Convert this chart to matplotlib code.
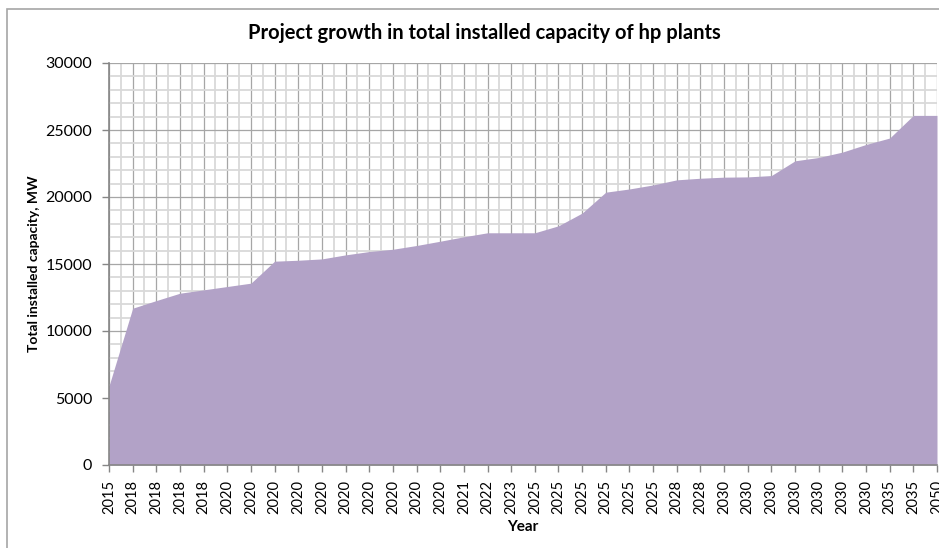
import matplotlib.pyplot as plt
import numpy as np
from matplotlib.patches import Rectangle
from matplotlib.ticker import MultipleLocator

years = ['2015', '2018', '2018', '2018', '2018',
         '2020', '2020', '2020', '2020', '2020', '2020', '2020', '2020', '2020', '2020',
         '2021', '2022', '2023',
         '2025', '2025', '2025', '2025', '2025', '2025',
         '2028', '2028',
         '2030', '2030', '2030', '2030', '2030', '2030', '2030',
         '2035', '2035', '2050']

capacity = [5900, 11700, 12270, 12820, 13070, 13320, 13570, 15210, 15280, 15380,
            15680, 15930, 16100, 16380, 16700, 17030, 17330, 17330, 17330, 17850,
            18800, 20360, 20600, 20900, 21280, 21400, 21480, 21500, 21600, 22700,
            22950, 23350, 23920, 24400, 26090, 26090]

plt.rcParams['font.family'] = ['Lato', 'DejaVu Sans']

fig = plt.figure(figsize=(9.39, 5.48), dpi=100)
ax = fig.add_axes([109 / 939, 1 - 465 / 548, (937 - 109) / 939, (465 - 63) / 548])

x = np.arange(len(capacity))
ax.fill_between(x, capacity, 0, color='#B2A2C7', lw=0, zorder=2)

ax.set_xlim(0, len(capacity) - 1)
ax.set_ylim(0, 30000)
ax.set_xticks(x)
ax.set_xticklabels(years, rotation=90, fontsize=10.5)
ax.xaxis.set_minor_locator(MultipleLocator(0.5))
ax.set_yticks(np.arange(0, 30001, 5000))
ax.yaxis.set_minor_locator(MultipleLocator(1000))
ax.tick_params(axis='y', labelsize=11.5, pad=7)
ax.tick_params(axis='x', pad=6)

ax.grid(which='major', color='#A6A6A6', lw=0.9, zorder=1)
ax.grid(which='minor', color='#D9D9D9', lw=1.3, zorder=1)
ax.set_axisbelow(True)
ax.tick_params(which='major', length=5, color='#868686', width=1)
ax.tick_params(which='minor', length=0)

for side in ['top', 'right']:
    ax.spines[side].set_visible(False)
for side in ['left', 'bottom']:
    ax.spines[side].set_color('#868686')
    ax.spines[side].set_linewidth(1.2)
    ax.spines[side].set_zorder(3)

fig.text(484 / 939, 1 - 33 / 548, 'Project growth in total installed capacity of hp plants',
         fontsize=14.5, fontweight='bold', ha='center', va='center')
ax.set_ylabel('Total installed capacity, MW', fontsize=10, fontweight='bold', labelpad=4)
ax.set_xlabel('Year', fontsize=11, fontweight='bold', labelpad=4)

fig.patches.append(Rectangle((7 / 939, -0.1), 1.1, 1 - 9 / 548 + 0.1,
                             transform=fig.transFigure, fill=False,
                             edgecolor='#A6A6A6', lw=1.2))

fig.savefig('out.png', dpi=100)
